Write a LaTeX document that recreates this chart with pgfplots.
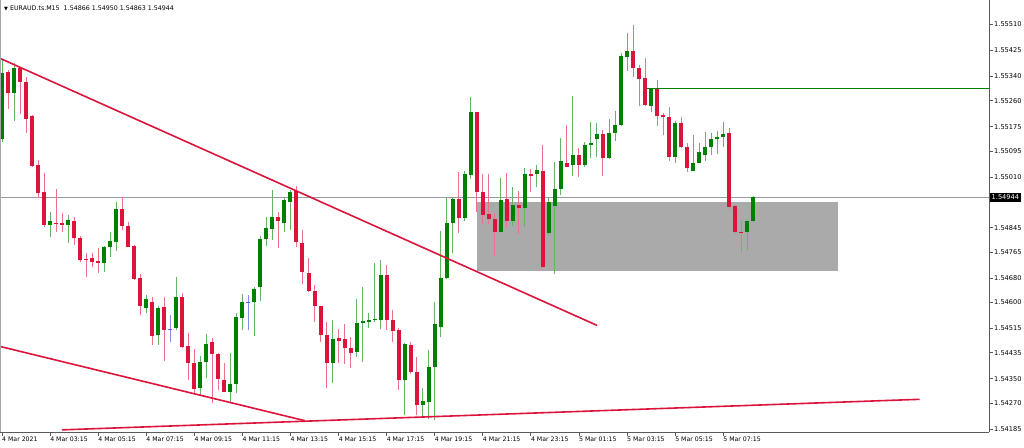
\documentclass[border=0pt]{standalone}
\usepackage{fontspec}
\setmainfont{DejaVu Sans}
\usepackage{pgfplots}
\usepackage{pgfplotstable}
\pgfplotsset{compat=1.18}

\definecolor{bull}{RGB}{0,128,0}
\definecolor{bear}{RGB}{220,20,60}
\definecolor{dojiblue}{RGB}{90,90,230}
\definecolor{zone}{RGB}{170,170,170}
\definecolor{pline}{RGB}{150,156,164}
\definecolor{axcol}{RGB}{90,90,90}

% candles: i = bar index (M15, bar 0 = 4 Mar 01:15), k = 1 up, 2 down, 3 doji
\pgfplotstableread{
i k o h l c
0 1 1.55135 1.55394 1.55125 1.55351
1 2 1.55353 1.55361 1.55233 1.55287
2 1 1.55287 1.55383 1.55195 1.55368
3 2 1.55366 1.55372 1.55217 1.55323
4 2 1.55323 1.55337 1.55156 1.55202
5 2 1.55210 1.55214 1.55045 1.55047
6 2 1.55050 1.55066 1.54946 1.54957
7 2 1.54962 1.55025 1.54846 1.54853
8 1 1.54853 1.54896 1.54814 1.54867
9 2 1.54861 1.54973 1.54832 1.54857
10 2 1.54859 1.54892 1.54829 1.54854
11 1 1.54852 1.54887 1.54796 1.54869
12 2 1.54867 1.54879 1.54788 1.54810
13 2 1.54812 1.54816 1.54734 1.54739
14 2 1.54743 1.54761 1.54683 1.54739
15 2 1.54745 1.54761 1.54717 1.54734
16 2 1.54736 1.54778 1.54696 1.54730
17 1 1.54730 1.54785 1.54701 1.54783
18 1 1.54781 1.54830 1.54748 1.54801
19 1 1.54798 1.54930 1.54770 1.54905
20 2 1.54907 1.54944 1.54837 1.54851
21 2 1.54851 1.54864 1.54781 1.54783
22 2 1.54785 1.54787 1.54674 1.54676
23 2 1.54679 1.54694 1.54559 1.54589
24 1 1.54583 1.54624 1.54565 1.54611
25 2 1.54600 1.54619 1.54461 1.54491
26 1 1.54493 1.54589 1.54461 1.54583
27 2 1.54585 1.54617 1.54409 1.54510
28 3 1.54514 1.54559 1.54472 1.54511
29 1 1.54518 1.54683 1.54510 1.54619
30 2 1.54617 1.54630 1.54450 1.54454
31 2 1.54458 1.54499 1.54347 1.54401
32 2 1.54401 1.54447 1.54303 1.54318
33 1 1.54321 1.54425 1.54295 1.54406
34 1 1.54405 1.54497 1.54352 1.54464
35 2 1.54470 1.54483 1.54270 1.54431
36 2 1.54431 1.54433 1.54312 1.54349
37 2 1.54347 1.54403 1.54306 1.54308
38 1 1.54308 1.54434 1.54272 1.54334
39 1 1.54334 1.54565 1.54303 1.54552
40 1 1.54549 1.54628 1.54510 1.54601
41 3 1.54601 1.54625 1.54510 1.54598
42 1 1.54600 1.54652 1.54491 1.54644
43 1 1.54650 1.54816 1.54606 1.54807
44 1 1.54807 1.54881 1.54785 1.54845
45 1 1.54841 1.54968 1.54805 1.54881
46 2 1.54881 1.54897 1.54778 1.54865
47 1 1.54861 1.54941 1.54832 1.54936
48 1 1.54930 1.54968 1.54837 1.54960
49 2 1.54965 1.54981 1.54783 1.54799
50 2 1.54796 1.54837 1.54661 1.54701
51 2 1.54696 1.54745 1.54634 1.54636
52 2 1.54638 1.54657 1.54537 1.54587
53 2 1.54589 1.54590 1.54472 1.54493
54 2 1.54494 1.54537 1.54320 1.54401
55 1 1.54403 1.54543 1.54338 1.54480
56 2 1.54485 1.54512 1.54401 1.54475
57 2 1.54481 1.54530 1.54399 1.54452
58 2 1.54452 1.54488 1.54385 1.54436
59 1 1.54439 1.54611 1.54421 1.54534
60 1 1.54534 1.54652 1.54405 1.54540
61 1 1.54537 1.54565 1.54516 1.54543
62 1 1.54544 1.54729 1.54537 1.54547
63 1 1.54543 1.54739 1.54512 1.54689
64 2 1.54689 1.54721 1.54510 1.54543
65 2 1.54541 1.54576 1.54472 1.54505
66 2 1.54510 1.54516 1.54314 1.54347
67 1 1.54347 1.54467 1.54232 1.54464
68 2 1.54461 1.54469 1.54366 1.54372
69 2 1.54374 1.54423 1.54232 1.54265
70 1 1.54265 1.54320 1.54227 1.54278
71 1 1.54274 1.54445 1.54218 1.54390
72 1 1.54388 1.54603 1.54216 1.54530
73 1 1.54519 1.54835 1.54486 1.54681
74 1 1.54679 1.54946 1.54676 1.54861
75 1 1.54859 1.54946 1.54761 1.54939
76 2 1.54939 1.55028 1.54827 1.54876
77 1 1.54878 1.55031 1.54865 1.55021
78 1 1.55017 1.55274 1.55004 1.55225
79 2 1.55223 1.55225 1.54897 1.54960
80 2 1.54963 1.55020 1.54857 1.54887
81 2 1.54890 1.55020 1.54857 1.54872
82 2 1.54872 1.54892 1.54753 1.54832
83 1 1.54832 1.55007 1.54830 1.54936
84 2 1.54939 1.55025 1.54848 1.54868
85 1 1.54868 1.54977 1.54851 1.54919
86 2 1.54919 1.54965 1.54824 1.54910
87 1 1.54910 1.55039 1.54848 1.55020
88 2 1.55020 1.55036 1.54963 1.55014
89 1 1.55020 1.55050 1.54979 1.55034
90 2 1.55031 1.55116 1.54714 1.54716
91 1 1.54827 1.54945 1.54821 1.54930
92 1 1.54916 1.55061 1.54694 1.54972
93 1 1.54971 1.55138 1.54952 1.55063
94 2 1.55058 1.55181 1.55043 1.55045
95 1 1.55050 1.55276 1.55014 1.55083
96 2 1.55083 1.55105 1.55012 1.55050
97 1 1.55050 1.55126 1.55043 1.55116
98 1 1.55116 1.55192 1.55072 1.55123
99 1 1.55135 1.55189 1.55075 1.55151
100 2 1.55151 1.55165 1.55015 1.55072
101 1 1.55072 1.55200 1.55070 1.55154
102 1 1.55154 1.55228 1.55129 1.55181
103 1 1.55180 1.55416 1.55178 1.55407
104 1 1.55405 1.55481 1.55358 1.55423
105 2 1.55423 1.55508 1.55337 1.55367
106 2 1.55369 1.55377 1.55243 1.55331
107 2 1.55334 1.55399 1.55243 1.55246
108 1 1.55243 1.55303 1.55225 1.55301
109 2 1.55301 1.55328 1.55178 1.55211
110 2 1.55214 1.55219 1.55148 1.55206
111 2 1.55206 1.55239 1.55064 1.55077
112 1 1.55077 1.55195 1.55058 1.55187
113 2 1.55187 1.55206 1.55105 1.55108
114 2 1.55110 1.55123 1.55028 1.55039
115 1 1.55031 1.55148 1.55029 1.55058
116 1 1.55058 1.55121 1.55056 1.55092
117 1 1.55083 1.55159 1.55064 1.55110
118 1 1.55108 1.55154 1.55083 1.55135
119 1 1.55135 1.55161 1.55086 1.55143
120 1 1.55141 1.55192 1.55108 1.55151
121 2 1.55154 1.55170 1.54906 1.54912
122 2 1.54916 1.54919 1.54827 1.54832
123 2 1.54830 1.54868 1.54761 1.54827
124 1 1.54830 1.54870 1.54772 1.54867
125 1 1.54866 1.54950 1.54863 1.54944
}\candles

\pgfplotsset{
  wick/.style={draw=none, mark=none, error bars/.cd, y dir=plus, y explicit,
    error mark=none, error bar style={draw=#1, line width=1pt}},
  body/.style={draw=none, mark=none, error bars/.cd, y dir=plus, y explicit,
    error mark=none, error bar style={draw=#1, line width=4pt}},
}

\begin{document}
\begin{tikzpicture}
\path[use as bounding box] (0pt,0pt) rectangle (1024pt,447pt);
\begin{axis}[
  at={(0pt,15pt)}, anchor=south west,
  scale only axis, width=989pt, height=432pt,
  xmin=-0.333, xmax=164.23, ymin=1.54176, ymax=1.55590,
  axis x line*=bottom, axis y line*=right,
  axis line style={axcol, line width=0.9pt},
  tick align=outside, major tick length=4pt,
  tick style={axcol, line width=0.8pt},
  xtick={0,8,...,120},
  xticklabels={4 Mar 2021, 4 Mar 03:15, 4 Mar 05:15, 4 Mar 07:15, 4 Mar 09:15,
    4 Mar 11:15, 4 Mar 13:15, 4 Mar 15:15, 4 Mar 17:15, 4 Mar 19:15,
    4 Mar 21:15, 4 Mar 23:15, 5 Mar 01:15, 5 Mar 03:15, 5 Mar 05:15, 5 Mar 07:15},
  ytick={1.54185,1.54270,1.54350,1.54435,1.54515,1.54600,1.54680,1.54765,
    1.54845,1.55010,1.55095,1.55175,1.55260,1.55340,1.55425,1.55510},
  yticklabels={1.54185,1.54270,1.54350,1.54435,1.54515,1.54600,1.54680,1.54765,
    1.54845,1.55010,1.55095,1.55175,1.55260,1.55340,1.55425,1.55510},
  xticklabel style={anchor=north west, inner sep=1pt, xshift=-1pt, font=\fontsize{6.2}{7}\selectfont},
  yticklabel style={anchor=west, inner sep=1pt, font=\fontsize{6.6}{7}\selectfont},
  scaled y ticks=false,
]
% support / resistance zone
\addplot[fill=zone, draw=none] coordinates {(79.1,1.54928) (139.1,1.54928) (139.1,1.54704) (79.1,1.54704)} -- cycle;
% current price line
\addplot[pline, line width=0.9pt] coordinates {(-0.333,1.54944) (164.23,1.54944)};

% wicks
\addplot[wick=bull!60!white] table[x=i, y expr={\thisrow{k}==1 ? \thisrow{l} : nan}, y error plus expr={\thisrow{h}-\thisrow{l}}] {\candles};
\addplot[wick=bear!60!white] table[x=i, y expr={\thisrow{k}==2 ? \thisrow{l} : nan}, y error plus expr={\thisrow{h}-\thisrow{l}}] {\candles};
\addplot[wick=dojiblue!70!white] table[x=i, y expr={\thisrow{k}==3 ? \thisrow{l} : nan}, y error plus expr={\thisrow{h}-\thisrow{l}}] {\candles};
% bodies
\addplot[body=bull] table[x=i, y expr={\thisrow{k}==1 ? \thisrow{o} : nan}, y error plus expr={\thisrow{c}-\thisrow{o}}] {\candles};
\addplot[body=bear] table[x=i, y expr={\thisrow{k}==2 ? \thisrow{c} : nan}, y error plus expr={\thisrow{o}-\thisrow{c}}] {\candles};
\addplot[body=dojiblue] table[x=i, y expr={\thisrow{k}==3 ? \thisrow{c} : nan}, y error plus expr={\thisrow{o}-\thisrow{c}}] {\candles};

% trend lines
\addplot[bear, line width=1.6pt] coordinates {(-0.333,1.55399) (99.0,1.54525)};
\addplot[bear, line width=1.6pt] coordinates {(-0.333,1.54456) (50.4,1.54213)};
\addplot[bear, line width=1.6pt] coordinates {(9.98,1.54183) (152.7,1.54283)};
\addplot[bull, line width=1.3pt] coordinates {(107.3,1.55301) (164.23,1.55301)};

\draw[gray!70, line width=1pt] (rel axis cs:0,0) -- (rel axis cs:0,1);
\coordinate (cp) at (axis cs:164.23,1.54944);
\end{axis}
\node[fill=black, text=white, anchor=west, inner xsep=1.5pt, inner ysep=1pt, minimum height=9pt, font=\fontsize{6.6}{7}\selectfont] at ([xshift=1pt]cp) {1.54944};
\node[anchor=west, inner sep=0pt, font=\fontsize{6.3}{7}\selectfont] at (4pt,439pt)
  {{\fontsize{5}{6}\selectfont ▼}\ EURAUD.ts.M15\ \ 1.54866 1.54950 1.54863 1.54944};
\end{tikzpicture}
\end{document}
